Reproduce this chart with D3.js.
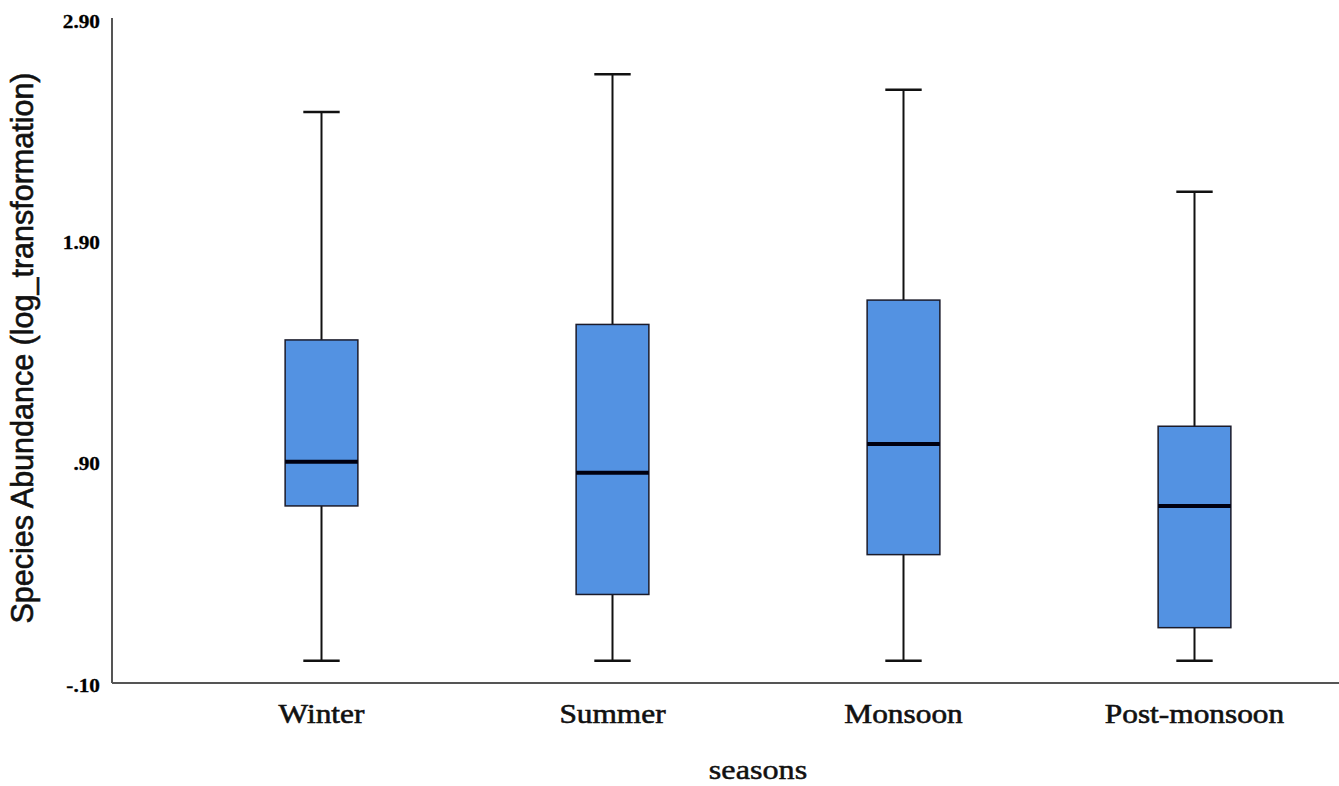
<html lang="en">
<head>
<script src="https://cdn.jsdelivr.net/npm/d3@7"></script>
<style>
body{margin:0;background:#fff;}
svg{display:block;}
</style>
</head>
<body>
<div id="chart"></div>
<script>
// box plot data
const seasons = ["Winter", "Summer", "Monsoon", "Post-monsoon"]
const whiskerLow = [0.00, 0.00, 0.00, 0.00]
const q1 = [0.70, 0.30, 0.48, 0.15]
const median = [0.90, 0.85, 0.98, 0.70]
const q3 = [1.45, 1.52, 1.63, 1.06]
const whiskerHigh = [2.48, 2.65, 2.58, 2.12]
const yTicks = [2.90, 1.90, 0.90, -0.10]
const yTickLabels = ["2.90", "1.90", ".90", "-.10"]

const W = 1339, H = 786
const boxColor = "#5392e2"
const serif = "'Liberation Serif','Times New Roman',serif"
const sans = "'Liberation Sans',Arial,sans-serif"

const svg = d3.select("#chart").append("svg").attr("width", W).attr("height", H)

const x = d3.scaleBand().domain(seasons).range([176, 1340]).paddingInner(0.75).paddingOuter(0.375)
const y = d3.scaleLinear().domain([-0.10, 2.90]).range([683, 19])

const rows = seasons.map((s, i) => ({s, lo: whiskerLow[i], q1: q1[i], med: median[i], q3: q3[i], hi: whiskerHigh[i]}))

// axes lines
svg.append("line").attr("x1", 112).attr("x2", 112).attr("y1", y(2.90) - 1).attr("y2", y(-0.10))
  .attr("stroke", "#555").attr("stroke-width", 2)
svg.append("line").attr("x1", 112).attr("x2", W).attr("y1", y(-0.10)).attr("y2", y(-0.10))
  .attr("stroke", "#555").attr("stroke-width", 2)

// y tick labels
svg.selectAll("text.ytick").data(yTicks).join("text").attr("class", "ytick")
  .attr("transform", d => `translate(100,${y(d) + 2}) scale(1.12,1)`)
  .attr("text-anchor", "end").attr("dominant-baseline", "central")
  .style("font-family", serif).style("font-weight", "bold").style("font-size", "19px")
  .style("stroke", "#000").style("stroke-width", 0.3)
  .text((d, i) => yTickLabels[i])

// whiskers + caps
const bw = x.bandwidth()
const g = svg.selectAll("g.box").data(rows).join("g").attr("class", "box")
  .attr("transform", d => `translate(${x(d.s)},0)`)

g.append("line").attr("x1", bw / 2).attr("x2", bw / 2).attr("y1", d => y(d.hi)).attr("y2", d => y(d.q3))
  .attr("stroke", "#111").attr("stroke-width", 2)
g.append("line").attr("x1", bw / 2).attr("x2", bw / 2).attr("y1", d => y(d.q1)).attr("y2", d => y(d.lo))
  .attr("stroke", "#111").attr("stroke-width", 2)
g.append("line").attr("x1", bw / 4).attr("x2", bw * 3 / 4).attr("y1", d => y(d.hi)).attr("y2", d => y(d.hi))
  .attr("stroke", "#111").attr("stroke-width", 2.5)
g.append("line").attr("x1", bw / 4).attr("x2", bw * 3 / 4).attr("y1", d => y(d.lo)).attr("y2", d => y(d.lo))
  .attr("stroke", "#111").attr("stroke-width", 2.5)

g.append("rect").attr("x", 0).attr("width", bw).attr("y", d => y(d.q3)).attr("height", d => y(d.q1) - y(d.q3))
  .attr("fill", boxColor).attr("stroke", "#1b1b2a").attr("stroke-width", 1.5)
g.append("line").attr("x1", 0).attr("x2", bw).attr("y1", d => y(d.med)).attr("y2", d => y(d.med))
  .attr("stroke", "#000010").attr("stroke-width", 4)

// category labels
svg.selectAll("text.xcat").data(seasons).join("text").attr("class", "xcat")
  .attr("transform", d => `translate(${x(d) + bw / 2},723) scale(1.12,1)`)
  .attr("text-anchor", "middle")
  .style("font-family", serif).style("font-size", "28px").style("fill", "#111")
  .style("stroke", "#111").style("stroke-width", 0.6)
  .text(d => d)

svg.append("text").attr("transform", "translate(758,779) scale(1.15,1)").attr("text-anchor", "middle")
  .style("font-family", serif).style("font-size", "28px").style("fill", "#111")
  .style("stroke", "#111").style("stroke-width", 0.5)
  .text("seasons")

svg.append("text").attr("transform", "translate(33,348) rotate(-90)").attr("text-anchor", "middle")
  .style("font-family", sans).style("font-size", "30.5px").style("fill", "#111")
  .style("stroke", "#111").style("stroke-width", 0.6)
  .text("Species Abundance (log_transformation)")
</script>
</body>
</html>
